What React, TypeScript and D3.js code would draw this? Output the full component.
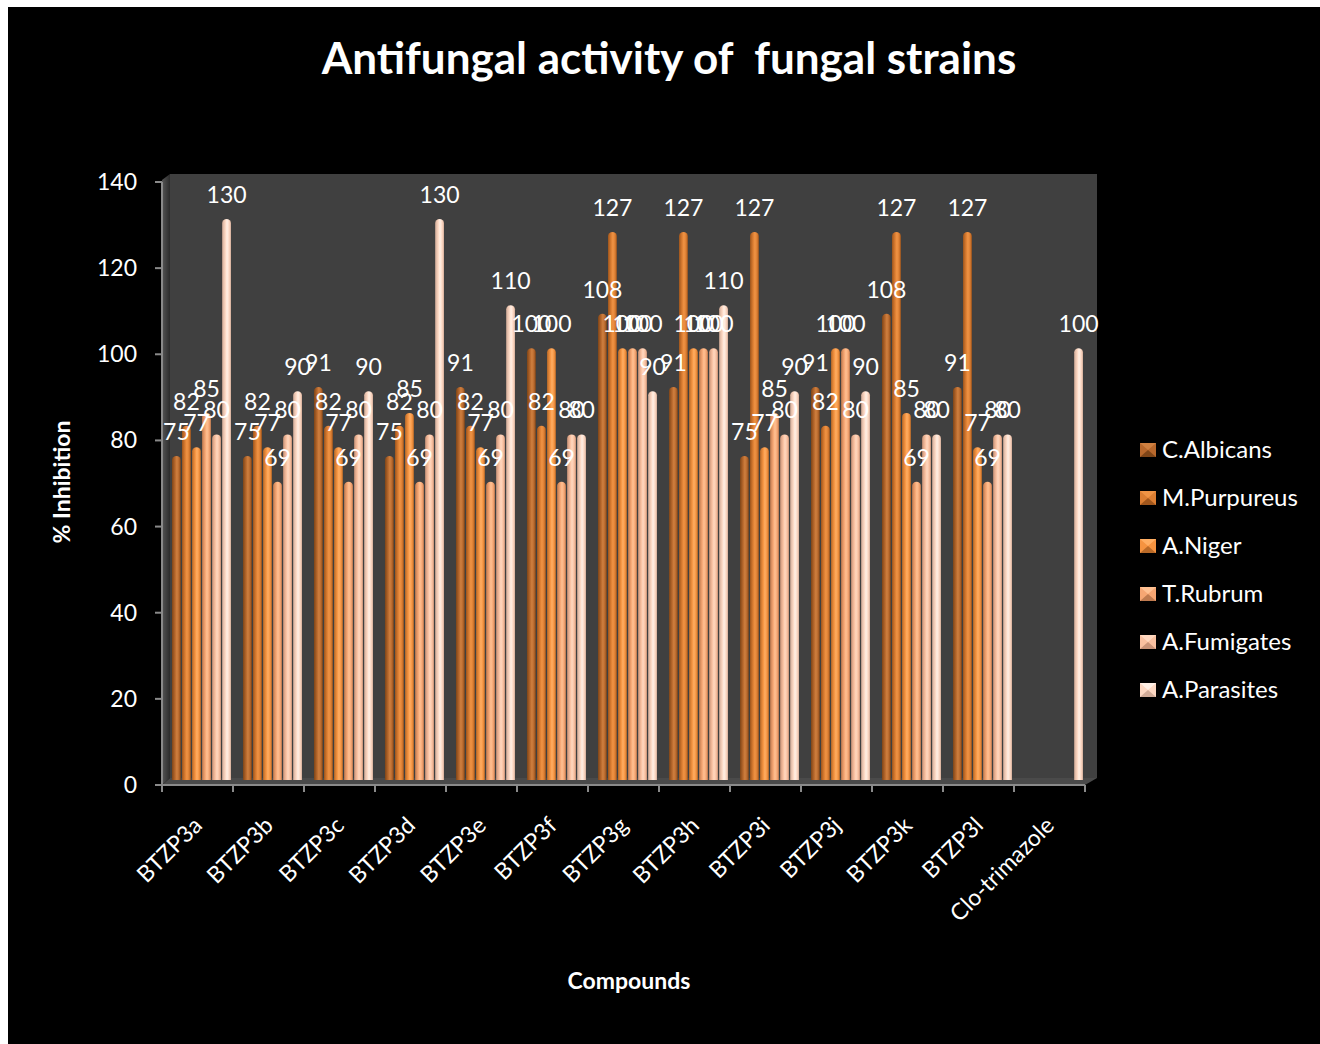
import React from 'react';
import * as d3 from 'd3';

const compounds = [
  'BTZP3a', 'BTZP3b', 'BTZP3c', 'BTZP3d', 'BTZP3e', 'BTZP3f', 'BTZP3g',
  'BTZP3h', 'BTZP3i', 'BTZP3j', 'BTZP3k', 'BTZP3l', 'Clo-trimazole',
];

const strains = ['C.Albicans', 'M.Purpureus', 'A.Niger', 'T.Rubrum', 'A.Fumigates', 'A.Parasites'];

const cAlbicans = [75, 75, 91, 75, 91, 100, 108, 91, 75, 91, 108, 91, null];
const mPurpureus = [82, 82, 82, 82, 82, 82, 127, 127, 127, 82, 127, 127, null];
const aNiger = [77, 77, 77, 85, 77, 100, 100, 100, 77, 100, 85, 77, null];
const tRubrum = [85, 69, 69, 69, 69, 69, 100, 100, 85, 100, 69, 69, null];
const aFumigates = [80, 80, 80, 80, 80, 80, 100, 100, 80, 80, 80, 80, null];
const aParasites = [130, 90, 90, 130, 110, 80, 90, 110, 90, 90, 80, 80, 100];

const seriesValues = [cAlbicans, mPurpureus, aNiger, tRubrum, aFumigates, aParasites];
const yTicks = [0, 20, 40, 60, 80, 100, 120, 140];

// base, edge (dark), highlight
const palette = [
  ['#b8682c', '#7e4518', '#cf8040'],
  ['#dc7e32', '#a0561c', '#f09445'],
  ['#f59340', '#b96a28', '#ffae63'],
  ['#f6a673', '#bf7a4f', '#ffc193'],
  ['#f9c0a0', '#c99378', '#ffd8c0'],
  ['#fcd7c2', '#d1ab98', '#fff0e6'],
];

const FONT = 'Lato, "Open Sans", sans-serif';

export default function App() {
  const axisLeft = 162;
  const axisRight = 1085;
  const axisBottom = 785;
  const depthX = 8;
  const depthY = 7;

  const x = d3.scaleBand<string>().domain(compounds).range([axisLeft, axisRight]);
  const xs = d3.scaleBand<number>().domain(d3.range(6)).range([10, 69]).paddingInner(0.12);
  const yAxis = d3.scaleLinear().domain([0, 140]).range([axisBottom, 182]);
  const yBar = d3.scaleLinear().domain([0, 140]).range([axisBottom - 6, 176]);

  const barPath = (bx: number, top: number, w: number, bottom: number) => {
    const r = Math.min(w / 2, 4);
    return `M${bx},${bottom} V${top + r} A${w / 2},${r} 0 0 1 ${bx + w},${top + r} V${bottom} Z`;
  };

  return (
    <svg width={1320} height={1044} style={{ position: 'absolute', left: 0, top: 0 }}>
      <defs>
        {palette.map((c, i) => (
          <linearGradient key={i} id={`bar${i}`} x1="0" x2="1" y1="0" y2="0">
            <stop offset="0" stopColor={c[1]} />
            <stop offset="0.35" stopColor={c[0]} />
            <stop offset="0.55" stopColor={c[2]} />
            <stop offset="0.8" stopColor={c[0]} />
            <stop offset="1" stopColor={c[1]} />
          </linearGradient>
        ))}
        <linearGradient id="sideWall" x1="0" x2="1" y1="0" y2="0">
          <stop offset="0" stopColor="#555" />
          <stop offset="1" stopColor="#2c2c2c" />
        </linearGradient>
      </defs>

      <rect x={8} y={7} width={1312} height={1037} fill="#000" />

      {/* title */}
      <text x={669} y={74} textAnchor="middle" fill="#fff" fontFamily={FONT}
        fontWeight="bold" fontSize={44} style={{ whiteSpace: 'pre' }}>
        {'Antifungal activity of  fungal strains'}
      </text>

      {/* back wall, side wall, floor */}
      <rect x={axisLeft + depthX} y={174} width={axisRight + 12 - axisLeft - depthX}
        height={axisBottom - depthY - 174} fill="#404040" />
      <polygon
        points={`${axisLeft},${axisBottom} ${axisLeft},${180} ${axisLeft + depthX},${174} ${axisLeft + depthX},${axisBottom - depthY}`}
        fill="url(#sideWall)" />
      <polygon
        points={`${axisLeft},${axisBottom} ${axisLeft + depthX},${axisBottom - depthY} ${axisRight + 12},${axisBottom - depthY} ${axisRight},${axisBottom}`}
        fill="#4a4a4a" />

      {/* bars */}
      {seriesValues.map((vals, si) => (
        <g key={si}>
          {compounds.map((c, ci) => {
            const v = vals[ci];
            if (v == null) return null;
            const bx = x(c)! + xs(si)!;
            return (
              <path key={c} d={barPath(bx, yBar(v), xs.bandwidth(), axisBottom - 5)}
                fill={`url(#bar${si})`} />
            );
          })}
        </g>
      ))}

      {/* value labels */}
      {seriesValues.map((vals, si) => (
        <g key={si}>
          {compounds.map((c, ci) => {
            const v = vals[ci];
            if (v == null) return null;
            const cx = x(c)! + xs(si)! + xs.bandwidth() / 2;
            return (
              <text key={c} x={cx} y={yBar(v) - 16} textAnchor="middle" fill="#fff"
                fontFamily={FONT} fontSize={23}>
                {v}
              </text>
            );
          })}
        </g>
      ))}

      {/* y axis */}
      <line x1={axisLeft} x2={axisLeft} y1={yAxis(140)} y2={axisBottom} stroke="#8a8a8a" strokeWidth={2} />
      {yTicks.map((t) => (
        <g key={t}>
          <line x1={axisLeft - 7} x2={axisLeft} y1={yAxis(t)} y2={yAxis(t)} stroke="#8a8a8a" strokeWidth={2} />
          <text x={137} y={yAxis(t)} dy="0.35em" textAnchor="end" fill="#fff" fontFamily={FONT} fontSize={23}>
            {t}
          </text>
        </g>
      ))}

      {/* x axis */}
      <line x1={axisLeft} x2={axisRight} y1={axisBottom} y2={axisBottom} stroke="#8a8a8a" strokeWidth={2} />
      {[...compounds.map((c) => x(c)!), axisRight].map((tx, i) => (
        <line key={i} x1={tx} x2={tx} y1={axisBottom} y2={axisBottom + 7} stroke="#8a8a8a" strokeWidth={2} />
      ))}
      {compounds.map((c) => {
        const ax = x(c)! + x.bandwidth() / 2 + 6;
        const ay = 827;
        return (
          <text key={c} x={ax} y={ay} transform={`rotate(-45 ${ax} ${ay})`} textAnchor="end"
            fill="#fff" fontFamily={FONT} fontSize={23}>
            {c}
          </text>
        );
      })}

      {/* axis titles */}
      <text x={629} y={989} textAnchor="middle" fill="#fff" fontFamily={FONT} fontWeight="bold" fontSize={23}>
        Compounds
      </text>
      <text transform="translate(70,482) rotate(-90)" textAnchor="middle" fill="#fff" fontFamily={FONT}
        fontWeight="bold" fontSize={23}>
        % Inhibition
      </text>

      {/* legend */}
      {strains.map((s, i) => {
        const ly = 450 + i * 48;
        const lx = 1140;
        const w = 16;
        const h = 14;
        const c = palette[i];
        return (
          <g key={s}>
            <rect x={lx} y={ly - h / 2} width={w} height={h} fill={c[0]} />
            <polygon points={`${lx},${ly - h / 2} ${lx + w},${ly - h / 2} ${lx + w / 2},${ly}`} fill={c[2]} />
            <polygon points={`${lx},${ly + h / 2} ${lx + w},${ly + h / 2} ${lx + w / 2},${ly}`} fill={c[1]} />
            <text x={1162} y={ly} dy="0.35em" fill="#fff" fontFamily={FONT} fontSize={24}>
              {s}
            </text>
          </g>
        );
      })}
    </svg>
  );
}
